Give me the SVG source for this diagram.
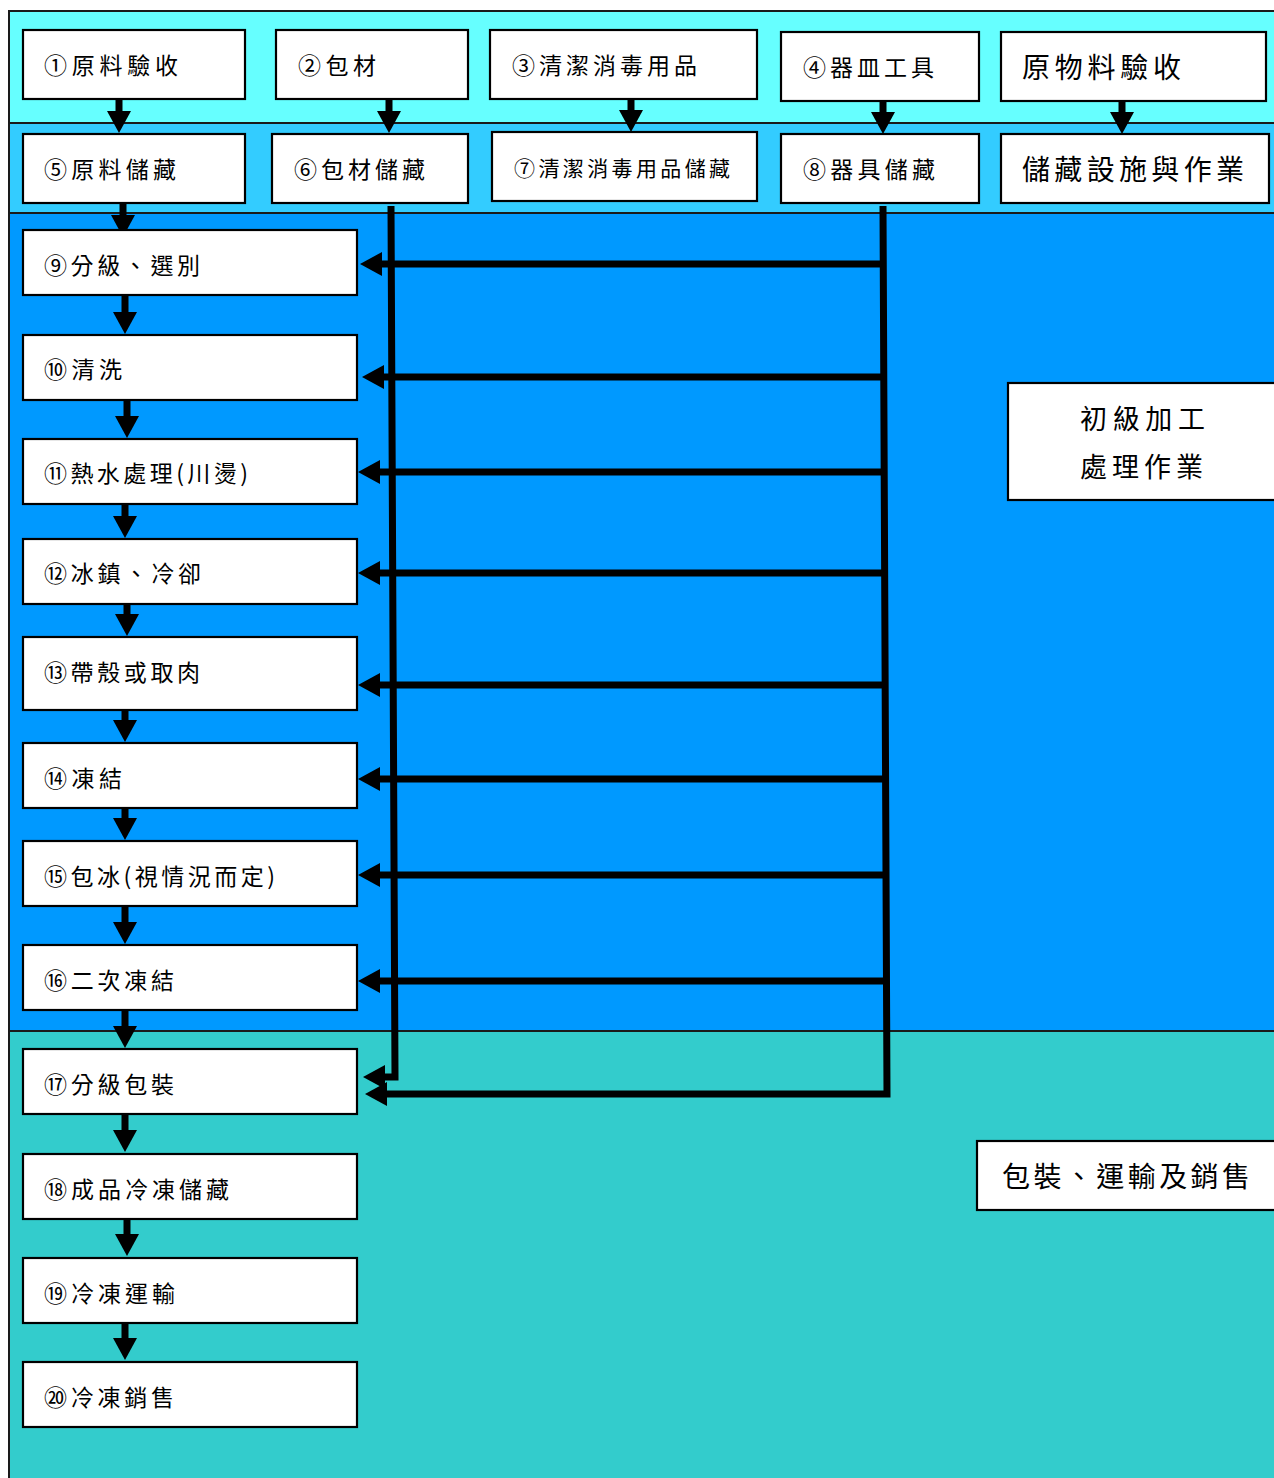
<svg xmlns="http://www.w3.org/2000/svg" width="1274" height="1478" viewBox="0 0 1274 1478">
<style>
.band{stroke:#1a1a1a;stroke-width:2}
.box{fill:#ffffff;stroke:#000000;stroke-width:2.2}
.t{font-family:"Noto Sans CJK TC","Noto Sans CJK JP",sans-serif;fill:#000000;dominant-baseline:central}
.s22{font-size:23px}
.s21{font-size:21px}
.s27{font-size:28px}
.s26{font-size:27px}
.c{fill:none;stroke:#000000;stroke-width:7;stroke-linejoin:miter}
</style>
<defs>
<marker id="ah" markerUnits="userSpaceOnUse" viewBox="0 0 22 24" refX="1" refY="12" markerWidth="22" markerHeight="24" orient="auto">
<path d="M0,0 L22,12 L0,24 Z" fill="#000000"/>
</marker>
</defs>
<rect x="0" y="0" width="1274" height="1478" fill="#ffffff"/>
<g id="bands">
<rect class="band" x="9" y="11" width="1275" height="112" fill="#66FFFF"/>
<rect class="band" x="9" y="123" width="1275" height="90" fill="#33CCFF"/>
<rect class="band" x="9" y="213" width="1275" height="818" fill="#0099FF"/>
<rect class="band" x="9" y="1031" width="1275" height="460" fill="#33CCCC"/>
</g>
<g id="connectors">
<line class="c" x1="119" y1="99" x2="119" y2="112" marker-end="url(#ah)"/>
<line class="c" x1="389" y1="99" x2="389" y2="112" marker-end="url(#ah)"/>
<line class="c" x1="631" y1="99" x2="631" y2="111" marker-end="url(#ah)"/>
<line class="c" x1="883" y1="101" x2="883" y2="113" marker-end="url(#ah)"/>
<line class="c" x1="1122" y1="101" x2="1122" y2="113" marker-end="url(#ah)"/>
<line class="c" x1="123" y1="203" x2="123" y2="216" marker-end="url(#ah)"/>
<line class="c" x1="125" y1="295" x2="125" y2="313" marker-end="url(#ah)"/>
<line class="c" x1="127" y1="400" x2="127" y2="417" marker-end="url(#ah)"/>
<line class="c" x1="125" y1="504" x2="125" y2="517" marker-end="url(#ah)"/>
<line class="c" x1="127" y1="604" x2="127" y2="615" marker-end="url(#ah)"/>
<line class="c" x1="125" y1="710" x2="125" y2="721" marker-end="url(#ah)"/>
<line class="c" x1="125" y1="808" x2="125" y2="819" marker-end="url(#ah)"/>
<line class="c" x1="125" y1="906" x2="125" y2="923" marker-end="url(#ah)"/>
<line class="c" x1="125" y1="1010" x2="125" y2="1027" marker-end="url(#ah)"/>
<line class="c" x1="125" y1="1114" x2="125" y2="1131" marker-end="url(#ah)"/>
<line class="c" x1="127" y1="1219" x2="127" y2="1235" marker-end="url(#ah)"/>
<line class="c" x1="125" y1="1323" x2="125" y2="1339" marker-end="url(#ah)"/>
<polyline class="c" points="391,206 395,1077 384,1077" marker-end="url(#ah)"/>
<polyline class="c" points="883,206 887,1094 386,1094" marker-end="url(#ah)"/>
<line class="c" x1="881" y1="264" x2="381" y2="264" marker-end="url(#ah)"/>
<line class="c" x1="886" y1="377" x2="383" y2="377" marker-end="url(#ah)"/>
<line class="c" x1="886" y1="472" x2="379" y2="472" marker-end="url(#ah)"/>
<line class="c" x1="886" y1="573" x2="379" y2="573" marker-end="url(#ah)"/>
<line class="c" x1="886" y1="685" x2="379" y2="685" marker-end="url(#ah)"/>
<line class="c" x1="886" y1="779" x2="379" y2="779" marker-end="url(#ah)"/>
<line class="c" x1="886" y1="875" x2="379" y2="875" marker-end="url(#ah)"/>
<line class="c" x1="886" y1="981" x2="379" y2="981" marker-end="url(#ah)"/>
</g>
<g id="n1"><rect class="box" x="23" y="30" width="222" height="69"/><text class="t s22" x="44" y="64" textLength="134" lengthAdjust="spacing">①原料驗收</text></g>
<g id="n2"><rect class="box" x="276" y="30" width="192" height="69"/><text class="t s22" x="298" y="64" textLength="78" lengthAdjust="spacing">②包材</text></g>
<g id="n3"><rect class="box" x="490" y="30" width="267" height="69"/><text class="t s22" x="512" y="64" textLength="185" lengthAdjust="spacing">③清潔消毒用品</text></g>
<g id="n4"><rect class="box" x="781" y="32" width="198" height="69"/><text class="t s22" x="803" y="66" textLength="131" lengthAdjust="spacing">④器皿工具</text></g>
<g id="n_raw"><rect class="box" x="1001" y="32" width="265" height="69"/><text class="t s27" x="1022" y="66" textLength="159" lengthAdjust="spacing">原物料驗收</text></g>
<g id="n5"><rect class="box" x="23" y="134" width="222" height="69"/><text class="t s22" x="44" y="168" textLength="132" lengthAdjust="spacing">⑤原料儲藏</text></g>
<g id="n6"><rect class="box" x="272" y="134" width="196" height="69"/><text class="t s22" x="294" y="168" textLength="131" lengthAdjust="spacing">⑥包材儲藏</text></g>
<g id="n7"><rect class="box" x="492" y="132" width="265" height="69"/><text class="t s21" x="514" y="167" textLength="216" lengthAdjust="spacing">⑦清潔消毒用品儲藏</text></g>
<g id="n8"><rect class="box" x="781" y="134" width="198" height="69"/><text class="t s22" x="803" y="168" textLength="132" lengthAdjust="spacing">⑧器具儲藏</text></g>
<g id="n_store"><rect class="box" x="1001" y="134" width="268" height="69"/><text class="t s27" x="1022" y="168" textLength="222" lengthAdjust="spacing">儲藏設施與作業</text></g>
<g id="n9"><rect class="box" x="23" y="230" width="334" height="65"/><text class="t s22" x="44" y="264" textLength="156" lengthAdjust="spacing">⑨分級、選別</text></g>
<g id="n10"><rect class="box" x="23" y="335" width="334" height="65"/><text class="t s22" x="44" y="368" textLength="78" lengthAdjust="spacing">⑩清洗</text></g>
<g id="n11"><rect class="box" x="23" y="439" width="334" height="65"/><text class="t s22" x="44" y="472" textLength="204" lengthAdjust="spacing">⑪熱水處理(川燙)</text></g>
<g id="n12"><rect class="box" x="23" y="539" width="334" height="65"/><text class="t s22" x="44" y="572" textLength="157" lengthAdjust="spacing">⑫冰鎮、冷卻</text></g>
<g id="n13"><rect class="box" x="23" y="637" width="334" height="73"/><text class="t s22" x="44" y="671" textLength="156" lengthAdjust="spacing">⑬帶殼或取肉</text></g>
<g id="n14"><rect class="box" x="23" y="743" width="334" height="65"/><text class="t s22" x="44" y="777" textLength="78" lengthAdjust="spacing">⑭凍結</text></g>
<g id="n15"><rect class="box" x="23" y="841" width="334" height="65"/><text class="t s22" x="44" y="875" textLength="231" lengthAdjust="spacing">⑮包冰(視情況而定)</text></g>
<g id="n16"><rect class="box" x="23" y="945" width="334" height="65"/><text class="t s22" x="44" y="979" textLength="130" lengthAdjust="spacing">⑯二次凍結</text></g>
<g id="n17"><rect class="box" x="23" y="1049" width="334" height="65"/><text class="t s22" x="44" y="1083" textLength="130" lengthAdjust="spacing">⑰分級包裝</text></g>
<g id="n18"><rect class="box" x="23" y="1154" width="334" height="65"/><text class="t s22" x="44" y="1188" textLength="185" lengthAdjust="spacing">⑱成品冷凍儲藏</text></g>
<g id="n19"><rect class="box" x="23" y="1258" width="334" height="65"/><text class="t s22" x="44" y="1292" textLength="131" lengthAdjust="spacing">⑲冷凍運輸</text></g>
<g id="n20"><rect class="box" x="23" y="1362" width="334" height="65"/><text class="t s22" x="44" y="1396" textLength="130" lengthAdjust="spacing">⑳冷凍銷售</text></g>
<g id="lbl_process"><rect class="box" x="1008" y="383" width="280" height="117"/><text class="t s26" x="1080" y="417" textLength="125" lengthAdjust="spacing">初級加工</text><text class="t s26" x="1080" y="465" textLength="123" lengthAdjust="spacing">處理作業</text></g>
<g id="lbl_pack"><rect class="box" x="977" y="1141" width="310" height="69"/><text class="t s27" x="1002" y="1175" textLength="248" lengthAdjust="spacing">包裝、運輸及銷售</text></g>
</svg>
